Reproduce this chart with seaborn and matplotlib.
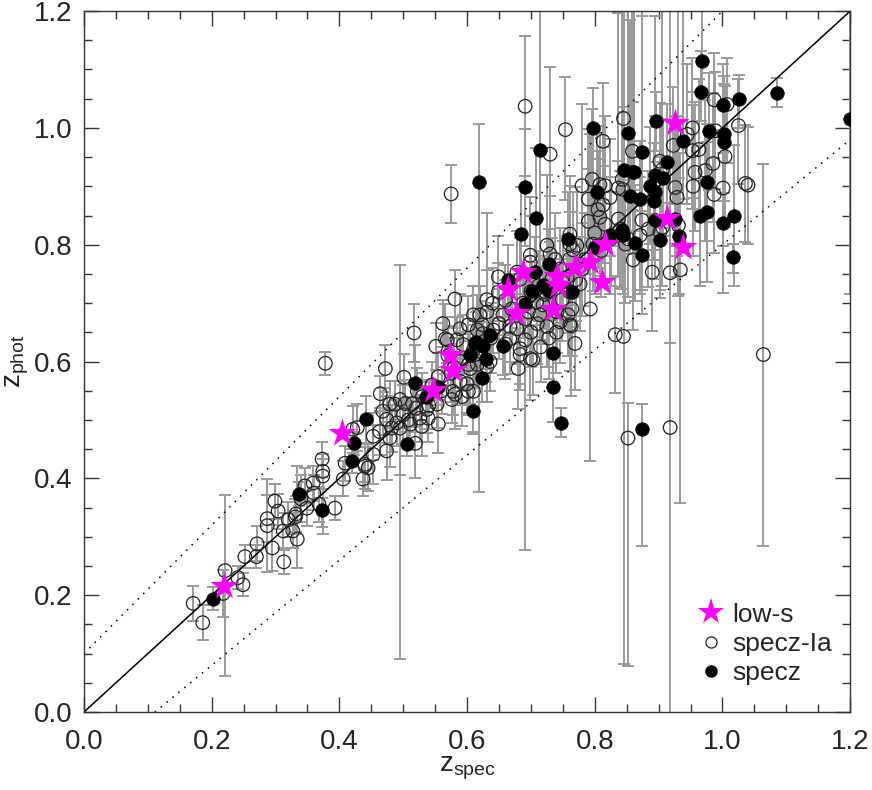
import numpy as np
import matplotlib
matplotlib.use('Agg')
import matplotlib.pyplot as plt
from matplotlib.lines import Line2D
from matplotlib.ticker import MultipleLocator
import seaborn as sns

# specz-Ia sample (open circles): z_spec, z_phot, lower / upper error
ia_zspec = [0.171, 0.186, 0.218, 0.221, 0.241, 0.249, 0.252, 0.270, 0.271, 0.287,
            0.287, 0.295, 0.299, 0.304, 0.312, 0.313, 0.320, 0.327, 0.331, 0.334,
            0.332, 0.340, 0.346, 0.349, 0.359, 0.360, 0.368, 0.393, 0.373, 0.374,
            0.374, 0.406, 0.409, 0.437, 0.440, 0.378, 0.472, 0.464, 0.517, 0.501,
            0.562, 0.551, 0.569, 0.584, 0.610, 0.624, 0.625, 0.641, 0.616, 0.602,
            0.589, 0.592, 0.578, 0.576, 0.602, 0.555, 0.553, 0.539, 0.555, 0.526,
            0.529, 0.515, 0.503, 0.500, 0.511, 0.519, 0.479, 0.468, 0.474, 0.482,
            0.479, 0.474, 0.453, 0.453, 0.440, 0.445, 0.421, 0.428, 0.495, 0.487,
            0.522, 0.537, 0.495, 0.594, 0.613, 0.600, 0.636, 0.631, 0.581, 0.631,
            0.649, 0.656, 0.602, 0.620, 0.667, 0.683, 0.691, 0.703, 0.683, 0.667,
            0.678, 0.691, 0.696, 0.714, 0.719, 0.709, 0.725, 0.730, 0.699, 0.761,
            0.761, 0.746, 0.741, 0.758, 0.769, 0.750, 0.761, 0.749, 0.678, 0.649,
            0.683, 0.699, 0.616, 0.589, 0.631, 0.605, 0.610, 0.581, 0.680, 0.699,
            0.566, 0.780, 0.816, 0.824, 0.837, 0.844, 0.813, 0.790, 0.808, 0.816,
            0.837, 0.840, 0.874, 0.884, 0.871, 0.852, 0.848, 0.860, 0.890, 0.918,
            0.934, 0.902, 0.906, 0.929, 0.926, 0.931, 0.797, 0.766, 0.772, 0.761,
            0.780, 0.777, 0.793, 0.764, 0.761, 0.832, 0.845, 0.754, 0.845, 0.813,
            0.859, 0.923, 0.953, 0.945, 0.953, 0.902, 0.906, 0.796, 0.808, 0.843,
            0.860, 0.957, 0.987, 1.007, 1.025, 0.963, 0.989, 1.004, 0.985, 0.973,
            0.954, 1.001, 0.987, 1.036, 1.040, 0.763, 0.852, 0.918, 1.064, 0.691,
            0.730, 0.575, 0.700, 0.712, 0.722, 0.733, 0.745, 0.738, 0.757, 0.770,
            0.785, 0.800, 0.810, 0.825, 0.790, 0.805, 0.640, 0.660, 0.670, 0.650,
            0.637, 0.660, 0.710, 0.725, 0.728, 0.740, 0.715, 0.688, 0.700, 0.610,
            0.575, 0.560, 0.545, 0.530, 0.540, 0.520, 0.508, 0.490, 0.463, 0.570,
            0.590, 0.580]
ia_zphot = [0.186, 0.153, 0.203, 0.242, 0.230, 0.218, 0.266, 0.266, 0.288, 0.331,
            0.319, 0.281, 0.361, 0.344, 0.310, 0.257, 0.329, 0.310, 0.334, 0.296,
            0.339, 0.365, 0.387, 0.349, 0.392, 0.375, 0.356, 0.349, 0.433, 0.412,
            0.404, 0.399, 0.426, 0.399, 0.424, 0.597, 0.588, 0.545, 0.649, 0.573,
            0.665, 0.626, 0.637, 0.637, 0.680, 0.663, 0.648, 0.654, 0.595, 0.595,
            0.566, 0.540, 0.549, 0.535, 0.549, 0.574, 0.527, 0.503, 0.493, 0.503,
            0.489, 0.528, 0.528, 0.509, 0.493, 0.460, 0.527, 0.515, 0.501, 0.486,
            0.469, 0.447, 0.472, 0.441, 0.421, 0.418, 0.484, 0.487, 0.535, 0.527,
            0.549, 0.518, 0.486, 0.629, 0.612, 0.562, 0.600, 0.685, 0.707, 0.706,
            0.719, 0.680, 0.663, 0.680, 0.639, 0.622, 0.637, 0.603, 0.612, 0.660,
            0.656, 0.673, 0.685, 0.680, 0.697, 0.702, 0.799, 0.784, 0.782, 0.818,
            0.801, 0.668, 0.685, 0.680, 0.631, 0.736, 0.719, 0.706, 0.753, 0.745,
            0.741, 0.770, 0.654, 0.656, 0.591, 0.588, 0.549, 0.544, 0.588, 0.605,
            0.639, 0.901, 0.901, 0.881, 0.897, 0.895, 0.868, 0.878, 0.847, 0.835,
            0.844, 0.827, 0.842, 0.827, 0.816, 0.810, 0.801, 0.774, 0.753, 0.752,
            0.757, 0.822, 0.830, 0.881, 0.898, 0.833, 0.801, 0.791, 0.799, 0.776,
            0.758, 0.733, 0.690, 0.690, 0.663, 0.646, 0.643, 0.997, 1.016, 0.977,
            0.960, 0.970, 1.000, 0.989, 0.961, 0.943, 0.929, 0.912, 0.903, 0.912,
            0.924, 0.924, 1.048, 1.040, 1.004, 0.963, 0.995, 0.951, 0.939, 0.927,
            0.900, 0.897, 0.886, 0.905, 0.902, 0.661, 0.469, 0.487, 0.612, 1.037,
            0.955, 0.887, 0.720, 0.730, 0.715, 0.742, 0.758, 0.775, 0.745, 0.740,
            0.775, 0.820, 0.790, 0.810, 0.840, 0.860, 0.700, 0.705, 0.690, 0.665,
            0.640, 0.630, 0.665, 0.660, 0.640, 0.650, 0.625, 0.700, 0.650, 0.620,
            0.580, 0.550, 0.560, 0.540, 0.525, 0.520, 0.500, 0.495, 0.480, 0.610,
            0.600, 0.590]
ia_elo = [0.03, 0.03, 0.04, 0.18, 0.02, 0.02, 0.02, 0.02, 0.03, 0.04,
          0.08, 0.04, 0.03, 0.03, 0.03, 0.02, 0.03, 0.03, 0.03, 0.05,
          0.03, 0.04, 0.03, 0.03, 0.03, 0.03, 0.03, 0.02, 0.03, 0.03,
          0.10, 0.03, 0.03, 0.03, 0.03, 0.02, 0.04, 0.03, 0.05, 0.04,
          0.04, 0.04, 0.04, 0.04, 0.05, 0.04, 0.04, 0.04, 0.04, 0.04,
          0.04, 0.05, 0.04, 0.04, 0.04, 0.04, 0.04, 0.04, 0.05, 0.04,
          0.05, 0.04, 0.04, 0.05, 0.04, 0.06, 0.04, 0.04, 0.04, 0.04,
          0.05, 0.05, 0.04, 0.05, 0.04, 0.04, 0.04, 0.04, 0.445, 0.04,
          0.04, 0.04, 0.08, 0.05, 0.05, 0.05, 0.05, 0.06, 0.05, 0.05,
          0.05, 0.06, 0.05, 0.05, 0.06, 0.06, 0.36, 0.06, 0.06, 0.06,
          0.06, 0.06, 0.06, 0.05, 0.06, 0.06, 0.08, 0.08, 0.08, 0.08,
          0.08, 0.07, 0.07, 0.07, 0.08, 0.07, 0.07, 0.07, 0.07, 0.07,
          0.07, 0.08, 0.06, 0.06, 0.06, 0.06, 0.07, 0.06, 0.07, 0.07,
          0.06, 0.10, 0.10, 0.10, 0.10, 0.10, 0.10, 0.10, 0.10, 0.10,
          0.10, 0.10, 0.12, 0.10, 0.10, 0.10, 0.10, 0.12, 0.10, 0.12,
          0.40, 0.10, 0.10, 0.10, 0.10, 0.12, 0.08, 0.08, 0.08, 0.08,
          0.08, 0.08, 0.26, 0.08, 0.08, 0.10, 0.56, 0.12, 0.10, 0.10,
          0.10, 0.10, 0.12, 0.12, 0.10, 0.10, 0.10, 0.10, 0.10, 0.10,
          0.10, 0.10, 0.10, 0.10, 0.10, 0.12, 0.10, 0.12, 0.10, 0.12,
          0.12, 0.10, 0.10, 0.10, 0.10, 0.12, 0.39, 0.49, 0.327, 0.12,
          0.15, 0.05, 0.06, 0.06, 0.06, 0.07, 0.07, 0.08, 0.07, 0.07,
          0.08, 0.08, 0.08, 0.08, 0.09, 0.10, 0.06, 0.06, 0.06, 0.06,
          0.06, 0.06, 0.07, 0.07, 0.07, 0.07, 0.06, 0.06, 0.06, 0.05,
          0.05, 0.04, 0.04, 0.04, 0.04, 0.04, 0.04, 0.04, 0.04, 0.05,
          0.05, 0.05]
ia_ehi = [0.03, 0.03, 0.04, 0.13, 0.02, 0.02, 0.02, 0.02, 0.03, 0.04,
          0.08, 0.04, 0.03, 0.03, 0.03, 0.02, 0.03, 0.03, 0.03, 0.125,
          0.03, 0.04, 0.03, 0.03, 0.03, 0.03, 0.03, 0.02, 0.03, 0.03,
          0.03, 0.03, 0.03, 0.03, 0.03, 0.02, 0.04, 0.03, 0.05, 0.04,
          0.04, 0.04, 0.04, 0.04, 0.05, 0.04, 0.04, 0.04, 0.04, 0.04,
          0.04, 0.05, 0.04, 0.04, 0.04, 0.04, 0.04, 0.04, 0.05, 0.04,
          0.05, 0.04, 0.04, 0.05, 0.04, 0.06, 0.04, 0.04, 0.04, 0.04,
          0.05, 0.05, 0.04, 0.05, 0.04, 0.04, 0.04, 0.04, 0.23, 0.04,
          0.04, 0.04, 0.08, 0.05, 0.05, 0.05, 0.05, 0.17, 0.05, 0.05,
          0.05, 0.06, 0.05, 0.05, 0.06, 0.06, 0.12, 0.06, 0.06, 0.06,
          0.06, 0.06, 0.06, 0.05, 0.06, 0.06, 0.12, 0.10, 0.10, 0.10,
          0.10, 0.07, 0.07, 0.07, 0.08, 0.07, 0.07, 0.07, 0.07, 0.07,
          0.07, 0.08, 0.06, 0.06, 0.06, 0.06, 0.07, 0.06, 0.07, 0.07,
          0.06, 0.14, 0.12, 0.10, 0.30, 0.14, 0.10, 0.12, 0.10, 0.10,
          0.10, 0.10, 0.35, 0.10, 0.10, 0.10, 0.10, 0.12, 0.10, 0.12,
          0.20, 0.12, 0.12, 0.14, 0.12, 0.40, 0.10, 0.10, 0.10, 0.08,
          0.08, 0.08, 0.30, 0.08, 0.08, 0.10, 0.15, 0.09, 0.30, 0.10,
          0.30, 0.10, 0.12, 0.12, 0.10, 0.10, 0.28, 0.12, 0.10, 0.30,
          0.12, 0.12, 0.08, 0.08, 0.08, 0.12, 0.10, 0.12, 0.12, 0.12,
          0.14, 0.10, 0.10, 0.10, 0.10, 0.12, 0.06, 0.72, 0.327, 0.12,
          0.15, 0.05, 0.06, 0.06, 0.06, 0.07, 0.07, 0.08, 0.07, 0.07,
          0.08, 0.08, 0.08, 0.08, 0.09, 0.10, 0.06, 0.06, 0.06, 0.06,
          0.06, 0.06, 0.07, 0.07, 0.07, 0.07, 0.06, 0.06, 0.06, 0.05,
          0.05, 0.04, 0.04, 0.04, 0.04, 0.04, 0.04, 0.04, 0.04, 0.05,
          0.05, 0.05]

# specz sample (filled circles)
sp_zspec = [0.202, 0.337, 0.373, 0.423, 0.420, 0.519, 0.442, 0.506, 0.536, 0.555,
            0.610, 0.624, 0.605, 0.613, 0.630, 0.625, 0.636, 0.708, 0.685, 0.758,
            0.728, 0.707, 0.664, 0.702, 0.719, 0.728, 0.765, 0.691, 0.656, 0.614,
            0.735, 0.735, 0.747, 0.874, 0.804, 0.855, 0.871, 0.887, 0.895, 0.892,
            0.895, 0.926, 0.932, 0.902, 0.863, 0.874, 0.843, 0.844, 0.824, 0.801,
            0.797, 0.852, 0.896, 0.874, 0.845, 0.862, 0.895, 0.913, 0.907, 0.938,
            0.967, 1.026, 1.086, 1.001, 0.979, 1.003, 1.003, 0.976, 0.965, 0.976,
            1.001, 1.018, 1.017, 1.200, 0.968, 0.714, 0.690, 0.619]
sp_zphot = [0.194, 0.373, 0.346, 0.460, 0.430, 0.564, 0.501, 0.459, 0.539, 0.556,
            0.516, 0.571, 0.612, 0.632, 0.605, 0.627, 0.646, 0.845, 0.818, 0.810,
            0.767, 0.753, 0.740, 0.721, 0.731, 0.721, 0.719, 0.699, 0.627, 0.634,
            0.614, 0.556, 0.494, 0.484, 0.891, 0.884, 0.878, 0.901, 0.891, 0.874,
            0.842, 0.844, 0.815, 0.808, 0.803, 0.782, 0.825, 0.816, 0.816, 0.796,
            0.999, 0.992, 1.011, 0.958, 0.928, 0.924, 0.920, 0.941, 0.915, 0.978,
            1.062, 1.050, 1.060, 1.040, 0.994, 0.989, 0.975, 0.907, 0.849, 0.856,
            0.837, 0.850, 0.779, 1.016, 1.115, 0.963, 0.898, 0.907]
sp_elo = [0.02, 0.02, 0.03, 0.02, 0.02, 0.027, 0.04, 0.02, 0.03, 0.03,
          0.04, 0.04, 0.04, 0.04, 0.04, 0.04, 0.04, 0.12, 0.08, 0.08,
          0.06, 0.06, 0.06, 0.05, 0.05, 0.05, 0.06, 0.05, 0.05, 0.05,
          0.06, 0.06, 0.024, 0.20, 0.10, 0.10, 0.10, 0.10, 0.10, 0.10,
          0.10, 0.10, 0.10, 0.10, 0.10, 0.10, 0.10, 0.10, 0.10, 0.08,
          0.10, 0.10, 0.05, 0.10, 0.10, 0.10, 0.10, 0.10, 0.10, 0.10,
          0.05, 0.05, 0.025, 0.06, 0.10, 0.10, 0.10, 0.10, 0.12, 0.12,
          0.12, 0.12, 0.027, 0.30, 0.05, 0.20, 0.10, 0.53]
sp_ehi = [0.02, 0.02, 0.02, 0.02, 0.02, 0.065, 0.04, 0.02, 0.03, 0.03,
          0.04, 0.04, 0.04, 0.04, 0.04, 0.04, 0.04, 0.12, 0.08, 0.08,
          0.06, 0.06, 0.06, 0.05, 0.05, 0.05, 0.06, 0.05, 0.05, 0.05,
          0.06, 0.10, 0.026, 0.044, 0.10, 0.30, 0.10, 0.10, 0.30, 0.10,
          0.10, 0.10, 0.10, 0.10, 0.10, 0.10, 0.10, 0.10, 0.10, 0.08,
          0.07, 0.25, 0.05, 0.25, 0.10, 0.30, 0.10, 0.10, 0.10, 0.25,
          0.07, 0.04, 0.025, 0.07, 0.10, 0.10, 0.10, 0.10, 0.12, 0.12,
          0.12, 0.12, 0.022, 0.20, 0.09, 0.24, 0.10, 0.10]

# low-s sample (magenta stars)
low_zspec = [0.219, 0.404, 0.547, 0.573, 0.578, 0.664, 0.677, 0.688, 0.735, 0.741,
             0.743, 0.769, 0.793, 0.812, 0.816, 0.913, 0.926, 0.938]
low_zphot = [0.216, 0.477, 0.551, 0.612, 0.586, 0.724, 0.683, 0.753, 0.690, 0.747,
             0.731, 0.762, 0.770, 0.736, 0.801, 0.845, 1.009, 0.796]

sns.set_style('ticks')
plt.rcParams['font.family'] = ['Liberation Sans', 'DejaVu Sans']
plt.rcParams['mathtext.fontset'] = 'custom'
plt.rcParams['mathtext.rm'] = 'Liberation Sans'
plt.rcParams['mathtext.it'] = 'Liberation Sans'

fig = plt.figure(figsize=(8.72, 7.9), dpi=100)
ax = fig.add_axes([0.0963, 0.0987, 0.8787, 0.8873])

ecol = '#9a9a9a'
ax.errorbar(ia_zspec, ia_zphot, yerr=[ia_elo, ia_ehi], fmt='none', ecolor=ecol,
            elinewidth=1.4, capsize=4, capthick=1.4, zorder=1)
ax.errorbar(sp_zspec, sp_zphot, yerr=[sp_elo, sp_ehi], fmt='none', ecolor=ecol,
            elinewidth=1.4, capsize=4, capthick=1.4, zorder=1)

# one-to-one and +-0.1(1+z) lines
zz = np.array([0.0, 1.2])
ax.plot(zz, zz, color='black', lw=1.1, zorder=2)
ax.plot(zz, zz + 0.1 * (1 + zz), color='black', lw=1.1, ls=(0, (1, 4)), zorder=2)
ax.plot(zz, zz - 0.1 * (1 + zz), color='black', lw=1.1, ls=(0, (1, 4)), zorder=2)

sns.scatterplot(x=ia_zspec, y=ia_zphot, ax=ax, marker='o', s=95,
                facecolor='none', edgecolor='#222222', linewidth=0.9, zorder=3)
sns.scatterplot(x=sp_zspec, y=sp_zphot, ax=ax, marker='o', s=95,
                color='black', edgecolor='black', linewidth=0.5, zorder=4)
sns.scatterplot(x=low_zspec, y=low_zphot, ax=ax, marker='*', s=450,
                color='magenta', edgecolor='magenta', linewidth=0, zorder=5)

ax.set_xlim(0, 1.2)
ax.set_ylim(0, 1.2)
ax.xaxis.set_major_locator(MultipleLocator(0.2))
ax.yaxis.set_major_locator(MultipleLocator(0.2))
ax.xaxis.set_minor_locator(MultipleLocator(0.05))
ax.yaxis.set_minor_locator(MultipleLocator(0.05))
ax.xaxis.set_major_formatter(plt.FormatStrFormatter('%.1f'))
ax.yaxis.set_major_formatter(plt.FormatStrFormatter('%.1f'))
ax.tick_params(which='both', direction='in', top=True, right=True,
               color='#333333', labelsize=20)
ax.tick_params(axis='x', which='major', pad=12)
ax.tick_params(axis='y', which='major', pad=8)
ax.tick_params(which='major', length=11, width=1.0)
ax.tick_params(which='minor', length=6, width=1.0)
for sp in ax.spines.values():
    sp.set_color('#333333')
    sp.set_linewidth(1.0)

ax.set_xlabel(r'z$_{\mathrm{spec}}$', fontsize=20, labelpad=0)
ax.set_ylabel(r'z$_{\mathrm{phot}}$', fontsize=20, labelpad=2)

handles = [
    Line2D([], [], ls='none', marker='*', markersize=20, color='magenta', markeredgewidth=0),
    Line2D([], [], ls='none', marker='o', markersize=8, markerfacecolor='none',
           markeredgecolor='#222222', markeredgewidth=0.9),
    Line2D([], [], ls='none', marker='o', markersize=8, color='black'),
]
ax.legend(handles, ['low-s', 'specz-Ia', 'specz'], loc='lower right',
          bbox_to_anchor=(1.0, 0.012), frameon=False, fontsize=19,
          handletextpad=0.2, handlelength=1.2, labelspacing=0.2, borderpad=0.2)

fig.savefig('out.png', dpi=100)
